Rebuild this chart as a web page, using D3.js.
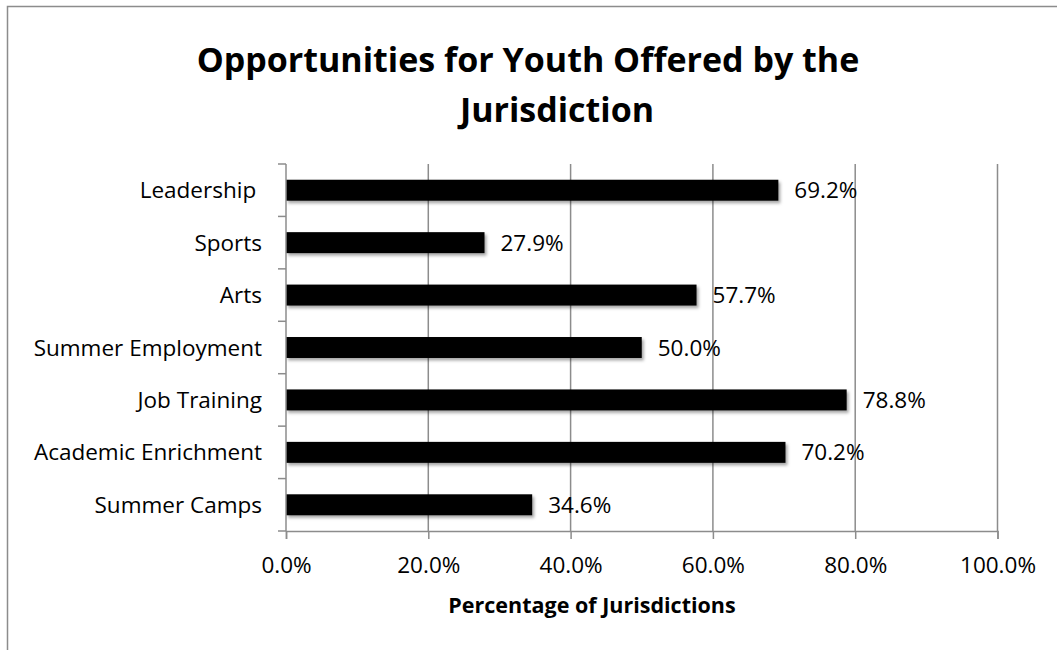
<!DOCTYPE html>
<html>
<head>
<meta charset="utf-8">
<script src="https://cdn.jsdelivr.net/npm/d3@7"></script>
<style>
  html, body { margin: 0; padding: 0; background: #fff; }
  svg { display: block; font-family: "Open Sans", "Noto Sans", sans-serif; }
  .cat { white-space: pre; }
</style>
</head>
<body>
<svg id="chart" width="1057" height="650"></svg>
<script>
// Youth opportunities offered, share of jurisdictions (%)
const categories = [
  "Leadership ",
  "Sports",
  "Arts",
  "Summer Employment",
  "Job Training",
  "Academic Enrichment",
  "Summer Camps"
];
const values = [69.2, 27.9, 57.7, 50.0, 78.8, 70.2, 34.6];
const xTicks = [0, 20, 40, 60, 80, 100];
const titleLines = ["Opportunities for Youth Offered by the", "Jurisdiction"];
const xAxisTitle = "Percentage of Jurisdictions";

const svg = d3.select("#chart");
const W = 1057, H = 650;
const plot = { left: 286, right: 997.5, top: 164, bottom: 531 };
const gridColor = "#8c8c8c";
const bodySize = 22.5;
const fmt = d => d.toFixed(1) + "%";

// Outer frame
svg.append("rect")
  .attr("x", 7.5).attr("y", 6.5)
  .attr("width", W).attr("height", H)
  .attr("fill", "none").attr("stroke", gridColor).attr("stroke-width", 1.5);

// Soft shadow under the bars
const defs = svg.append("defs");
const f = defs.append("filter").attr("id", "barShadow")
  .attr("x", "-5%").attr("y", "-30%").attr("width", "115%").attr("height", "180%");
f.append("feDropShadow")
  .attr("dx", 2).attr("dy", 2.5).attr("stdDeviation", 1.8)
  .attr("flood-color", "#000").attr("flood-opacity", 0.35);

const x = d3.scaleLinear().domain([0, 100]).range([plot.left, plot.right]);
const y = d3.scaleBand().domain(categories)
  .range([plot.top, plot.bottom]).paddingInner(0.6).paddingOuter(0.3);

// Title
svg.append("g").selectAll("text").data(titleLines).join("text")
  .attr("x", (d, i) => i === 0 ? 528 : 557)
  .attr("y", (d, i) => 72 + i * 50)
  .attr("text-anchor", "middle")
  .attr("font-size", 34).attr("font-weight", 700).attr("fill", "#000")
  .text(d => d);

// Vertical gridlines
svg.append("g").selectAll("line").data(xTicks.filter(t => t > 0)).join("line")
  .attr("x1", d => x(d)).attr("x2", d => x(d))
  .attr("y1", plot.top).attr("y2", plot.bottom)
  .attr("stroke", gridColor).attr("stroke-width", 1.5);

// Bars
svg.append("g").selectAll("rect").data(categories).join("rect")
  .attr("x", x(0))
  .attr("y", d => y(d))
  .attr("width", (d, i) => x(values[i]) - x(0))
  .attr("height", y.bandwidth())
  .attr("fill", "#000")
  .attr("filter", "url(#barShadow)");

// Value labels
svg.append("g").selectAll("text").data(categories).join("text")
  .attr("x", (d, i) => x(values[i]) + 16)
  .attr("y", d => y(d) + y.bandwidth() / 2)
  .attr("dy", "0.36em")
  .attr("font-size", bodySize).attr("fill", "#000")
  .text((d, i) => fmt(values[i]));

// Category axis: line and boundary ticks
const yAxisG = svg.append("g");
yAxisG.append("line")
  .attr("x1", plot.left).attr("x2", plot.left)
  .attr("y1", plot.top).attr("y2", plot.bottom)
  .attr("stroke", gridColor).attr("stroke-width", 1.5);
const step = y.step();
const bounds = d3.range(categories.length + 1).map(i => plot.top + i * step);
yAxisG.selectAll("line.tick").data(bounds).join("line")
  .attr("class", "tick")
  .attr("x1", plot.left - 8).attr("x2", plot.left)
  .attr("y1", d => d).attr("y2", d => d)
  .attr("stroke", gridColor).attr("stroke-width", 1.5);
yAxisG.selectAll("text").data(categories).join("text")
  .attr("class", "cat")
  .attr("x", 262)
  .attr("y", d => y(d) + y.bandwidth() / 2)
  .attr("dy", "0.36em")
  .attr("text-anchor", "end")
  .attr("font-size", bodySize).attr("fill", "#000")
  .text(d => d);

// Value axis
const xAxis = d3.axisBottom(x).tickValues(xTicks).tickSize(8).tickPadding(18)
  .tickFormat(fmt);
const xg = svg.append("g").attr("transform", `translate(0,${plot.bottom})`).call(xAxis);
xg.select(".domain").attr("stroke", gridColor).attr("stroke-width", 1.5);
xg.selectAll(".tick line").attr("stroke", gridColor).attr("stroke-width", 1.5);
xg.selectAll(".tick text")
  .attr("font-size", bodySize).attr("font-family", "Open Sans, Noto Sans, sans-serif")
  .attr("fill", "#000");

svg.append("text")
  .attr("x", 592)
  .attr("y", 613)
  .attr("text-anchor", "middle")
  .attr("font-size", 21.5).attr("font-weight", 700).attr("fill", "#000")
  .text(xAxisTitle);
</script>
</body>
</html>
